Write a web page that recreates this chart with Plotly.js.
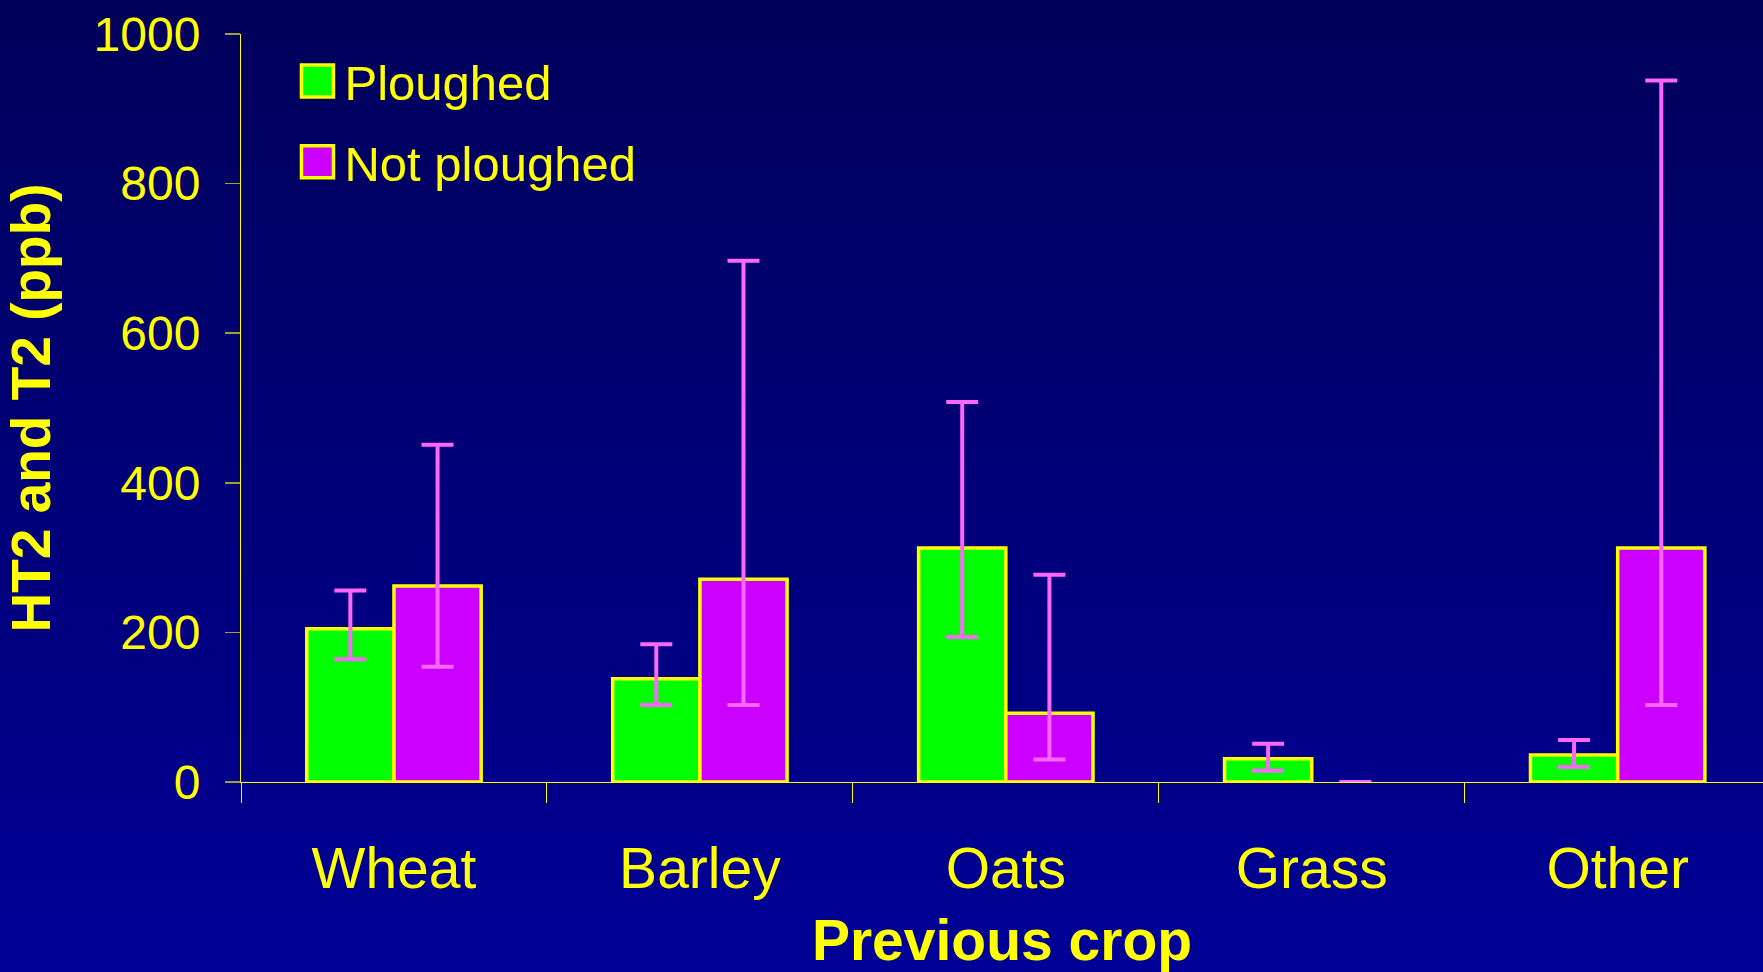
<!DOCTYPE html>
<html>
<head>
<meta charset="utf-8">
<script src="https://cdn.plot.ly/plotly-3.0.1.min.js"></script>
<style>
  html, body { margin: 0; padding: 0; width: 1763px; height: 972px; overflow: hidden;
    background: linear-gradient(to bottom, #00005a 0%, #000078 50%, #000096 100%); }
  #chart { width: 1763px; height: 972px; }
</style>
</head>
<body>
<div id="chart"></div>
<script>
const categories = ['Wheat', 'Barley', 'Oats', 'Grass', 'Other'];
const ploughed = [205, 138, 313, 31, 36];
const ploughedHigh = [256, 184, 508, 51, 56];
const ploughedLow = [164, 103, 194, 15, 20];
const notPloughed = [262, 271, 92, 0, 313];
const notPloughedHigh = [451, 697, 277, 0, 938];
const notPloughedLow = [154, 103, 30, 0, 103];
const yTicks = [0, 200, 400, 600, 800, 1000];

const YEL = '#FFFF00';
const ERR = '#FF66FF';
const FONT = 'Liberation Sans, Arial, sans-serif';

function errBar(vals, hi, lo) {
  return {
    type: 'data', symmetric: false,
    array: vals.map((v, i) => hi[i] - v),
    arrayminus: vals.map((v, i) => v - lo[i]),
    color: ERR, thickness: 4, width: 16
  };
}

const traces = [
  {
    type: 'bar', name: 'Ploughed', x: categories, y: ploughed,
    marker: { color: '#00FF00', line: { color: YEL, width: 3.5 } },
    error_y: errBar(ploughed, ploughedHigh, ploughedLow),
    legendgroup: 'a'
  },
  {
    type: 'bar', name: 'Not ploughed', x: categories, y: notPloughed,
    marker: { color: '#CC00FF', line: { color: YEL, width: notPloughed.map(v => v > 0 ? 3.5 : 0) } },
    error_y: errBar(notPloughed, notPloughedHigh, notPloughedLow),
    legendgroup: 'b'
  }
];

const layout = {
  width: 1763, height: 972,
  paper_bgcolor: 'rgba(0,0,0,0)', plot_bgcolor: 'rgba(0,0,0,0)',
  margin: { l: 241, r: 0, t: 34, b: 190 },
  barmode: 'group', bargap: 0.43, bargroupgap: 0,
  font: { family: FONT, color: YEL },
  showlegend: true,
  legend: {
    x: 0.0325, y: 0.9885, xanchor: 'left', yanchor: 'top',
    bgcolor: 'rgba(0,0,0,0)', borderwidth: 0,
    font: { family: FONT, size: 49, color: YEL },
    traceorder: 'grouped', tracegroupgap: 14, itemwidth: 44
  },
  xaxis: {
    type: 'category', range: [-0.5, 4.475],
    showline: true, linecolor: YEL, linewidth: 1,
    ticks: 'outside', tickson: 'boundaries', ticklen: 20, tickcolor: YEL, tickwidth: 1,
    tickfont: { family: FONT, size: 57, color: YEL },
    ticklabelstandoff: 37,
    showgrid: false, zeroline: false,
    title: { text: 'Previous crop', font: { family: FONT, size: 57, color: YEL, weight: 'bold' }, standoff: 31 }
  },
  yaxis: {
    range: [0, 1000], tickvals: yTicks, ticktext: yTicks.map(String),
    showline: true, linecolor: YEL, linewidth: 1,
    ticks: 'outside', ticklen: 15, tickcolor: '#A0A030', tickwidth: 1.5,
    tickfont: { family: FONT, size: 48, color: YEL },
    ticklabelstandoff: 15,
    showgrid: false, zeroline: true, zerolinecolor: YEL, zerolinewidth: 1,
    title: { text: 'HT2 and T2 (ppb)', font: { family: FONT, size: 55, color: YEL, weight: 'bold' }, standoff: 34 }
  }
};

Plotly.newPlot('chart', traces, layout, { displayModeBar: false, staticPlot: true }).then(function (gd) {
  // enlarge legend swatches to match the big text
  gd.querySelectorAll('.legend .legendpoints path').forEach(function (p) {
    p.setAttribute('d', 'M16,16H-16V-16H16Z');
    p.style.strokeWidth = '3.5px';
    p.style.stroke = YEL;
  });
});
</script>
</body>
</html>
